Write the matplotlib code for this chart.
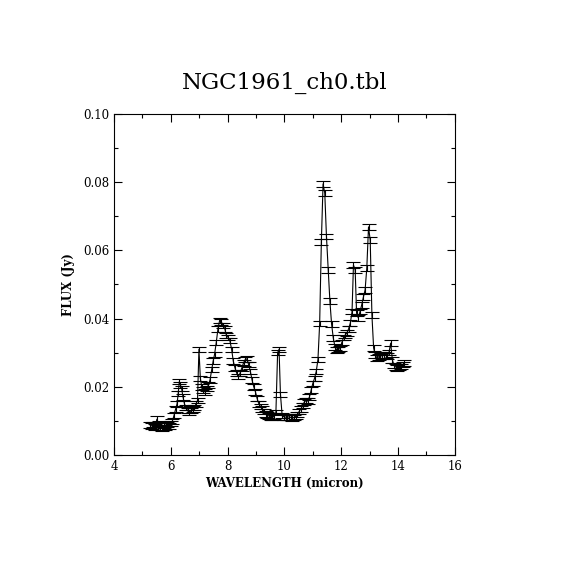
import matplotlib
matplotlib.use("Agg")
import matplotlib.pyplot as plt
from matplotlib.ticker import MultipleLocator

# spectrum
wavelength = [
    5.27, 5.33, 5.39, 5.45, 5.51, 5.57, 5.63, 5.69, 5.75, 5.81, 5.87, 5.93, 5.99,
    6.05, 6.11, 6.17, 6.22, 6.26, 6.30, 6.34, 6.38, 6.43, 6.48, 6.53, 6.59, 6.65,
    6.71, 6.77, 6.83, 6.89, 6.94, 6.99, 7.04, 7.09, 7.14, 7.20, 7.26, 7.32, 7.38,
    7.44, 7.49, 7.54, 7.60, 7.66, 7.72, 7.78, 7.84, 7.90, 7.96, 8.02, 8.08, 8.14,
    8.20, 8.26, 8.32, 8.38, 8.44, 8.50, 8.56, 8.62, 8.68, 8.74, 8.80, 8.86, 8.92,
    8.98, 9.04, 9.10, 9.16, 9.22, 9.28, 9.34, 9.40, 9.46, 9.52, 9.58, 9.64, 9.70,
    9.76, 9.81, 9.86, 9.92, 9.98, 10.04, 10.10, 10.16, 10.22, 10.28, 10.34, 10.40,
    10.46, 10.52, 10.58, 10.64, 10.70, 10.76, 10.82, 10.88, 10.94, 11.00, 11.06,
    11.12, 11.18, 11.24, 11.30, 11.36, 11.42, 11.48, 11.54, 11.60, 11.66, 11.72,
    11.78, 11.84, 11.90, 11.96, 12.02, 12.08, 12.14, 12.20, 12.26, 12.32, 12.38,
    12.43, 12.49, 12.54, 12.60, 12.66, 12.72, 12.78, 12.84, 12.90, 12.96, 13.02,
    13.08, 13.14, 13.20, 13.26, 13.32, 13.38, 13.44, 13.50, 13.56, 13.62, 13.68,
    13.74, 13.80, 13.86, 13.92, 13.98, 14.04, 14.10, 14.16, 14.22,
]
flux = [
    0.0088, 0.0085, 0.0090, 0.0082, 0.0105, 0.0092, 0.0080, 0.0078, 0.0086, 0.0080,
    0.0090, 0.0085, 0.0092, 0.0098, 0.0115, 0.0135, 0.0150, 0.0180, 0.0215, 0.0205,
    0.0195, 0.0170, 0.0150, 0.0140, 0.0130, 0.0125, 0.0130, 0.0135, 0.0140, 0.0150,
    0.0160, 0.0310, 0.0225, 0.0200, 0.0190, 0.0185, 0.0195, 0.0205, 0.0220, 0.0250,
    0.0275, 0.0295, 0.0330, 0.0370, 0.0395, 0.0390, 0.0380, 0.0370, 0.0350, 0.0345,
    0.0335, 0.0310, 0.0275, 0.0255, 0.0240, 0.0230, 0.0240, 0.0255, 0.0270, 0.0280,
    0.0282, 0.0265, 0.0245, 0.0220, 0.0200, 0.0185, 0.0165, 0.0150, 0.0142, 0.0135,
    0.0128, 0.0120, 0.0117, 0.0114, 0.0112, 0.0112, 0.0114, 0.0125, 0.0300, 0.0310,
    0.0178, 0.0115, 0.0112, 0.0111, 0.0110, 0.0112, 0.0110, 0.0108, 0.0110, 0.0113,
    0.0118, 0.0128, 0.0135, 0.0145, 0.0155, 0.0160, 0.0158, 0.0170, 0.0190, 0.0210,
    0.0225, 0.0245, 0.0280, 0.0385, 0.0625, 0.0795, 0.0768, 0.0640, 0.0543, 0.0452,
    0.0384, 0.0343, 0.0317, 0.0308, 0.0310, 0.0312, 0.0330, 0.0345, 0.0352, 0.0358,
    0.0370, 0.0387, 0.0420, 0.0557, 0.0543, 0.0416, 0.0402, 0.0420, 0.0440, 0.0463,
    0.0484, 0.0548, 0.0669, 0.0630, 0.0410, 0.0314, 0.0293, 0.0284, 0.0288, 0.0293,
    0.0290, 0.0293, 0.0292, 0.0290, 0.0300, 0.0328, 0.0279, 0.0262, 0.0258, 0.0255,
    0.0258, 0.0260, 0.0265, 0.0270,
]
flux_err = 0.0008

plt.rcParams['font.family'] = ['DejaVu Serif']

fig = plt.figure(figsize=(5.7, 5.7), dpi=100)
ax = fig.add_axes([0.2, 0.2018, 0.598, 0.5982])

ax.errorbar(wavelength, flux, yerr=flux_err, color='black', linewidth=0.8,
            elinewidth=0.8, capsize=5, capthick=0.8)

ax.set_xlim(4, 16)
ax.set_ylim(0, 0.10)
ax.xaxis.set_major_locator(MultipleLocator(2))
ax.xaxis.set_minor_locator(MultipleLocator(1))
ax.yaxis.set_major_locator(MultipleLocator(0.02))
ax.yaxis.set_minor_locator(MultipleLocator(0.01))
ax.yaxis.set_major_formatter(plt.FormatStrFormatter('%.2f'))
ax.tick_params(which='both', direction='in', top=True, right=True, labelsize=8.5, width=0.8)
ax.tick_params(which='major', length=6)
ax.tick_params(which='minor', length=3)
for s in ax.spines.values():
    s.set_linewidth(0.8)

ax.set_xlabel('WAVELENGTH (micron)', fontsize=8.5, fontweight='bold', labelpad=3)
ax.set_ylabel('FLUX (Jy)', fontsize=8.5, fontweight='bold', labelpad=6)
fig.text(0.5, 0.855, 'NGC1961_ch0.tbl', ha='center', va='center', fontsize=16.5)

fig.savefig('out.png', dpi=100)
